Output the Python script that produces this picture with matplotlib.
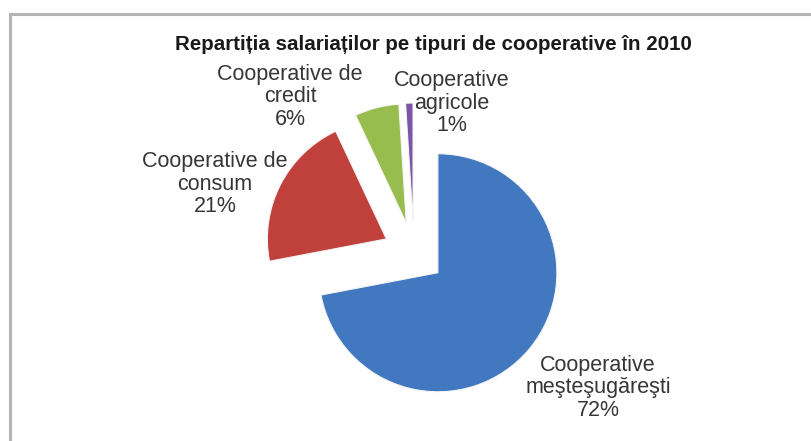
import matplotlib.pyplot as plt
from matplotlib.patches import Rectangle

plt.rcParams['font.family'] = ['Liberation Sans', 'DejaVu Sans']

# date
categorii = ['Cooperative\nmeşteşugăreşti', 'Cooperative de\nconsum',
             'Cooperative de\ncredit', 'Cooperative\nagricole']
procente = [72, 21, 6, 1]
culori = ['#4178c0', '#c0403c', '#96bd4e', '#7a55a8']
titlu = 'Repartiția salariaților pe tipuri de cooperative în 2010'

# pozitiile etichetelor (pixeli, y de jos in sus)
poz_etichete = [(598, 441 - 388), (215, 441 - 184), (290, 441 - 97), (452, 441 - 103)]

fig = plt.figure(figsize=(8.11, 4.41), dpi=100)
fig.patch.set_facecolor('white')
ax = fig.add_axes([0, 0, 1, 1])

# la pie, explode e in unitati absolute (aici pixeli)
ax.pie(procente, colors=culori, startangle=90, counterclock=False,
       explode=[31] * len(procente), radius=119, center=(414, 441 - 253),
       wedgeprops=dict(edgecolor='#f4f4f4', linewidth=0.8), frame=True)

for nume, p, (x, y) in zip(categorii, procente, poz_etichete):
    ax.text(x, y, f'{nume}\n{p}%', ha='center', va='center', fontsize=15.5,
            color='#363636', linespacing=1.08)

ax.text(433, 441 - 44, titlu, ha='center', va='center', fontsize=14.8,
        fontweight='bold', color='#1a1a1a')

ax.set_xlim(0, 811)
ax.set_ylim(0, 441)
ax.set_aspect('auto')
ax.axis('off')

# chenarul gri
fig.patches.append(Rectangle((10 / 811, -0.05), 1.2, (441 - 14) / 441 + 0.05,
                             transform=fig.transFigure, fill=False,
                             edgecolor='#b4b4b4', linewidth=2.2))

fig.savefig('out.png', dpi=100)
